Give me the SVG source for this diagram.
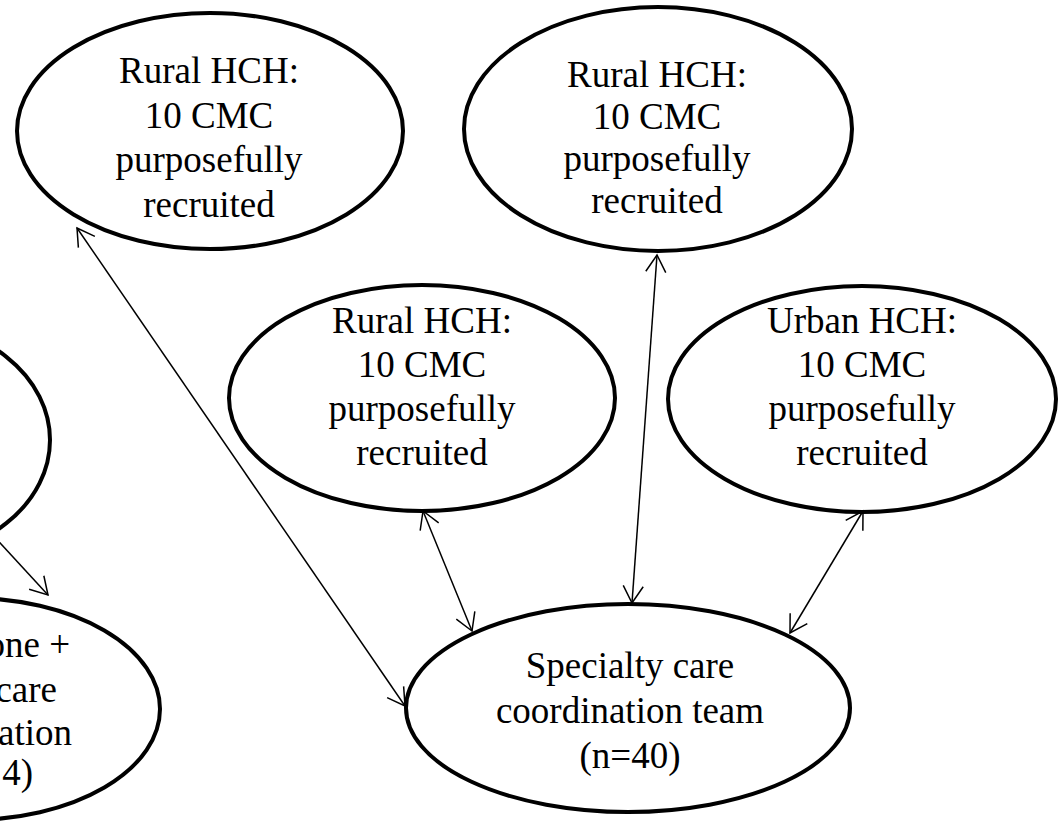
<svg xmlns="http://www.w3.org/2000/svg" width="1058" height="832" viewBox="0 0 1058 832">
<style>
.node ellipse{fill:#fff;stroke:#000;stroke-width:4}
.node text{font-family:"Liberation Serif","Times New Roman",serif;font-size:37px;fill:#000;text-anchor:middle}
.node text.cut{text-anchor:end}
#connectors line{stroke:#000;stroke-width:1.5;fill:none}
</style>
<defs>
<marker id="arr" viewBox="-20 -12 22 24" refX="0" refY="0" markerWidth="22" markerHeight="24" markerUnits="userSpaceOnUse" orient="auto-start-reverse">
<path d="M-17,-10 L0,0 L-17,10" fill="none" stroke="#000" stroke-width="1.5"/>
</marker>
</defs>
<g id="n-rural1" class="node">
<ellipse cx="210" cy="131" rx="193" ry="118"/>
<text x="209" y="83">Rural HCH:</text>
<text x="209" y="128">10 CMC</text>
<text x="209" y="172">purposefully</text>
<text x="209" y="217">recruited</text>
</g>
<g id="n-rural2" class="node">
<ellipse cx="658" cy="129" rx="194" ry="122"/>
<text x="657" y="87">Rural HCH:</text>
<text x="657" y="129">10 CMC</text>
<text x="657" y="171">purposefully</text>
<text x="657" y="213">recruited</text>
</g>
<g id="n-rural3" class="node">
<ellipse cx="422" cy="398" rx="193" ry="113"/>
<text x="422" y="333">Rural HCH:</text>
<text x="422" y="377">10 CMC</text>
<text x="422" y="421">purposefully</text>
<text x="422" y="465">recruited</text>
</g>
<g id="n-urban" class="node">
<ellipse cx="862" cy="399" rx="194" ry="113"/>
<text x="862" y="333">Urban HCH:</text>
<text x="862" y="377">10 CMC</text>
<text x="862" y="421">purposefully</text>
<text x="862" y="465">recruited</text>
</g>
<g id="n-left-mid" class="node">
<ellipse cx="-100" cy="440" rx="150" ry="118"/>
</g>
<g id="n-left-bottom" class="node">
<ellipse cx="-30" cy="709" rx="190" ry="111"/>
<text class="cut" x="70" y="657">one +</text>
<text class="cut" x="57" y="702">care</text>
<text class="cut" x="72" y="745">ation</text>
<text class="cut" x="33" y="785">4)</text>
</g>
<g id="n-specialty" class="node">
<ellipse cx="628" cy="708" rx="222" ry="104"/>
<text x="630" y="678">Specialty care</text>
<text x="630" y="723">coordination team</text>
<text x="630" y="768">(n=40)</text>
</g>
<g id="connectors">
<line x1="-10" y1="532" x2="48" y2="595" marker-end="url(#arr)"/>
<line x1="77" y1="228" x2="405" y2="706" marker-start="url(#arr)" marker-end="url(#arr)"/>
<line x1="423" y1="511" x2="472" y2="631" marker-start="url(#arr)" marker-end="url(#arr)"/>
<line x1="657" y1="255" x2="632" y2="603" marker-start="url(#arr)" marker-end="url(#arr)"/>
<line x1="863" y1="511" x2="790" y2="633" marker-start="url(#arr)" marker-end="url(#arr)"/>
</g>
</svg>
